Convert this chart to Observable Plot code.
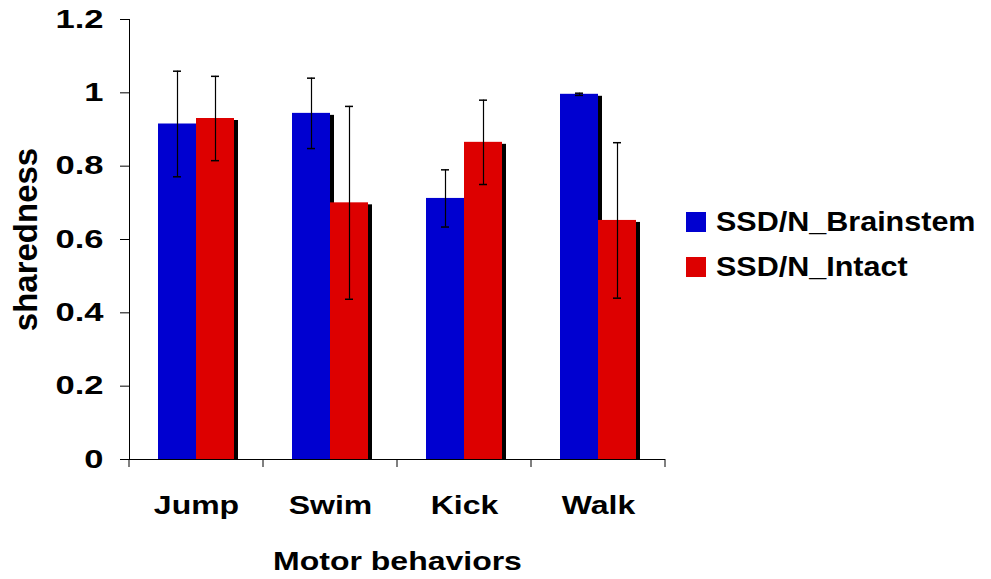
<!DOCTYPE html>
<html>
<head>
<meta charset="utf-8">
<script src="https://cdn.jsdelivr.net/npm/d3@7"></script>
<script src="https://cdn.jsdelivr.net/npm/@observablehq/plot@0.6"></script>
<style>
  html, body { margin: 0; padding: 0; background: #fff; }
  #wrap { position: relative; width: 991px; height: 579px; font-family: "Liberation Sans", Arial, sans-serif; }
  #legend { position: absolute; left: 686px; top: 199px; font-weight: bold; font-size: 28px; color: #000; }
  #legend .row { display: flex; align-items: center; height: 45px; }
  #legend .sw { width: 20px; height: 20px; margin-right: 10px; flex: none; }
  #legend span { display: inline-block; transform: scaleX(1.09); transform-origin: left center; white-space: nowrap; }
</style>
</head>
<body>
<div id="wrap"></div>
<script>
// Sharedness of synergies per motor behavior (mean ± error)
const behaviors = ["Jump", "Swim", "Kick", "Walk"];
const seriesNames = ["SSD/N_Brainstem", "SSD/N_Intact"];
const brainstem = [0.915, 0.944, 0.712, 0.996];
const brainstemErr = [0.144, 0.096, 0.078, 0.003];
const intact = [0.930, 0.700, 0.865, 0.652];
const intactErr = [0.115, 0.263, 0.115, 0.212];
const yTicks = [0, 0.2, 0.4, 0.6, 0.8, 1, 1.2];
const colors = ["#0000d0", "#dd0000"];

const rows = (vals, errs) => behaviors.map((b, i) => ({behavior: b, value: vals[i], err: errs[i]}));
const blue = rows(brainstem, brainstemErr);
const red = rows(intact, intactErr);

const font = "'Liberation Sans', Arial, sans-serif";

// bar placement inside each category band
const blueInset = {insetLeft: 29, insetRight: 67};
const redInset = {insetLeft: 67, insetRight: 29};

const errorBars = (data, dx, capInset) => [
  Plot.ruleX(data, {x: "behavior", y1: d => d.value - d.err, y2: d => d.value + d.err, dx, stroke: "#000", strokeWidth: 1.2}),
  Plot.tickY(data, {x: "behavior", y: d => d.value + d.err, stroke: "#000", strokeWidth: 1.5, ...capInset}),
  Plot.tickY(data, {x: "behavior", y: d => d.value - d.err, stroke: "#000", strokeWidth: 1.5, ...capInset})
];

const chart = Plot.plot({
  width: 991,
  height: 579,
  marginLeft: 129,
  marginRight: 326,
  marginTop: 19,
  marginBottom: 120,
  style: {fontFamily: font, background: "#fff", color: "#000"},
  x: {domain: behaviors, padding: 0, label: null},
  y: {domain: [0, 1.2], label: null},
  marks: [
    Plot.barY(blue, {x: "behavior", y: "value", fill: "#000", dx: 4, dy: 2, clip: true, ...blueInset}),
    Plot.barY(blue, {x: "behavior", y: "value", fill: colors[0], ...blueInset}),
    Plot.barY(red, {x: "behavior", y: "value", fill: "#000", dx: 4, dy: 2, clip: true, ...redInset}),
    Plot.barY(red, {x: "behavior", y: "value", fill: colors[1], ...redInset}),
    ...errorBars(blue, -19, {insetLeft: 44, insetRight: 82}),
    ...errorBars(red, 19, {insetLeft: 82, insetRight: 44}),
    Plot.ruleY([0], {stroke: "#000"}),
    Plot.frame({anchor: "left", stroke: "#000"}),
    Plot.axisY({ticks: yTicks, tickFormat: d => String(d), tickSize: 9, tickPadding: 17,
      fontSize: 26, fontWeight: "bold", stroke: "#000", label: null}),
    Plot.axisX({tickSize: 0, tickPadding: 36, fontSize: 26, fontWeight: "bold", label: null}),
    Plot.text(["sharedness"], {frameAnchor: "left", dx: -103, rotate: -90, fontSize: 33, fontWeight: "bold",
      textAnchor: "middle", lineAnchor: "middle"}),
    Plot.text(["Motor behaviors"], {frameAnchor: "bottom", dy: 102, fontSize: 26, fontWeight: "bold",
      textAnchor: "middle", lineAnchor: "middle"})
  ]
});

// category separator ticks below the baseline, at the band edges
const xs = chart.scale("x");
const ys = chart.scale("y");
const y0 = ys.apply(0);
const edges = behaviors.map(b => xs.apply(b)).concat([xs.apply(behaviors[behaviors.length - 1]) + xs.bandwidth]);
d3.select(chart).append("g")
  .attr("stroke", "#000")
  .selectAll("line").data(edges).join("line")
  .attr("x1", d => d).attr("x2", d => d)
  .attr("y1", y0).attr("y2", y0 + 8);

const wrap = document.getElementById("wrap");
wrap.appendChild(chart);

// wide bold lettering: widen glyphs horizontally
function widen(selection, factor) {
  selection.each(function () {
    const len = this.getComputedTextLength();
    this.setAttribute("textLength", (len * factor).toFixed(1));
    this.setAttribute("lengthAdjust", "spacingAndGlyphs");
  });
}
widen(d3.select(chart).selectAll('g[aria-label="y-axis tick label"] text'), 1.33);
widen(d3.select(chart).selectAll('g[aria-label="x-axis tick label"] text'), 1.23);
widen(d3.select(chart).selectAll("text").filter(function () { return this.textContent === "Motor behaviors"; }), 1.23);

const legend = document.createElement("div");
legend.id = "legend";
seriesNames.forEach((name, i) => {
  const row = document.createElement("div");
  row.className = "row";
  const sw = document.createElement("div");
  sw.className = "sw";
  sw.style.background = colors[i];
  const label = document.createElement("span");
  label.textContent = name;
  row.appendChild(sw);
  row.appendChild(label);
  legend.appendChild(row);
});
wrap.appendChild(legend);
</script>
</body>
</html>
